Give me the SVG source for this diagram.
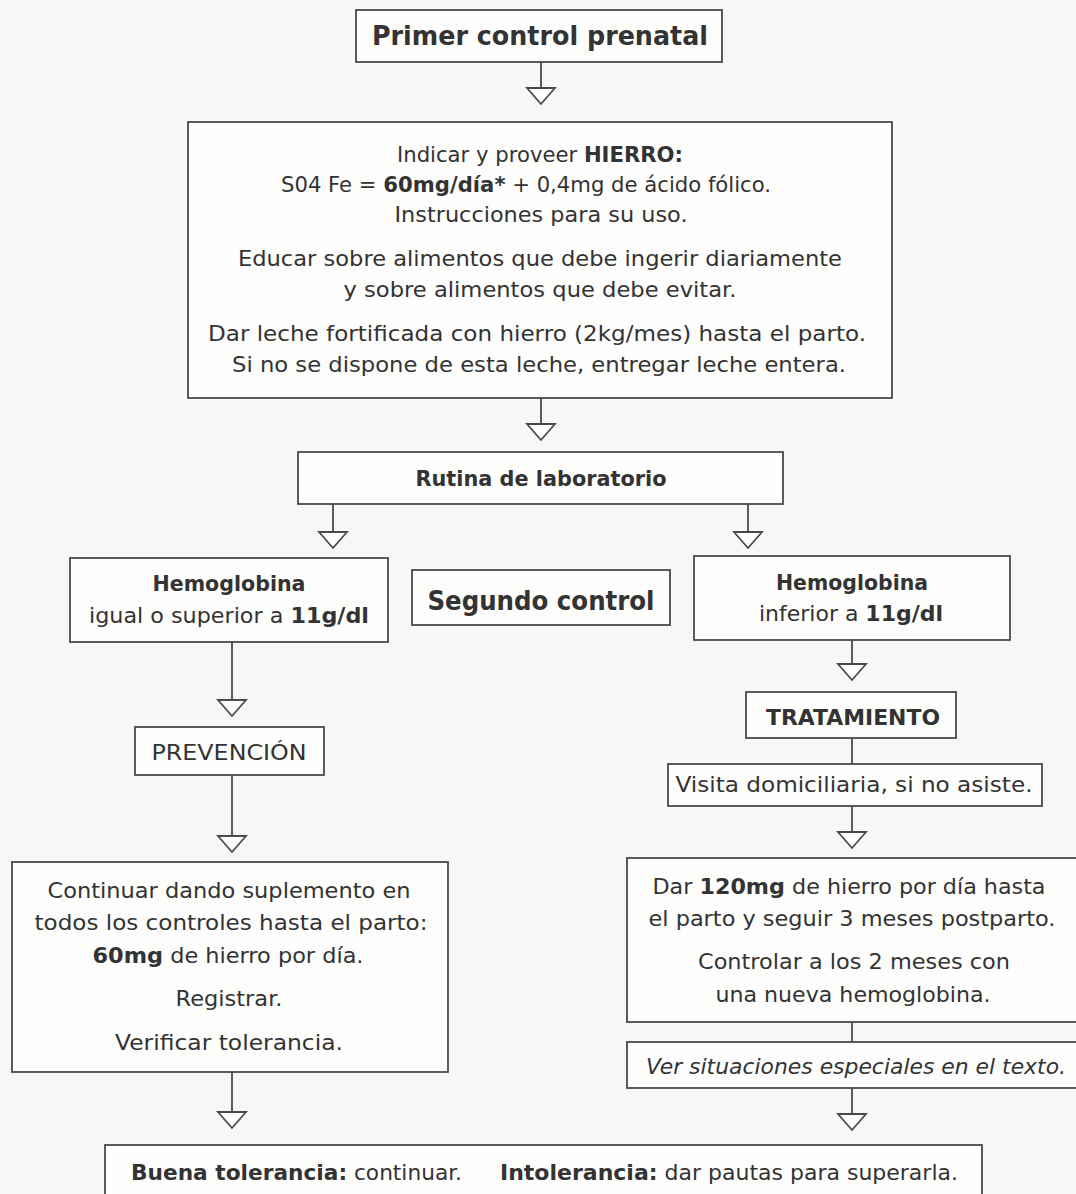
<svg xmlns="http://www.w3.org/2000/svg" width="1076" height="1194" viewBox="0 0 1076 1194">
<style>
.bg{fill:#f7f7f5}
.box{fill:#fdfdfc;stroke:#4a4a4a;stroke-width:1.8}
.ln{stroke:#4a4a4a;stroke-width:1.8;fill:none}
text{font-family:"DejaVu Sans","Liberation Sans",sans-serif;fill:#333;font-size:20.5px}
.t{text-anchor:middle}
.s{text-anchor:start}
.b{font-weight:bold}
</style>
<defs>
<marker id="tri" viewBox="0 0 16 28" markerWidth="16" markerHeight="28" markerUnits="userSpaceOnUse" refX="0" refY="14" orient="auto" overflow="visible">
<path d="M0,0 L16,14 L0,28 Z" fill="#fdfdfc" stroke="#4a4a4a" stroke-width="1.8"/>
</marker>
</defs>
<rect class="bg" x="0" y="0" width="1076" height="1194"/>

<g id="connectors">
<line class="ln" x1="541" y1="62" x2="541" y2="88" marker-end="url(#tri)"/>
<line class="ln" x1="541" y1="398" x2="541" y2="424" marker-end="url(#tri)"/>
<line class="ln" x1="333" y1="504" x2="333" y2="532" marker-end="url(#tri)"/>
<line class="ln" x1="748" y1="504" x2="748" y2="532" marker-end="url(#tri)"/>
<line class="ln" x1="232" y1="642" x2="232" y2="700" marker-end="url(#tri)"/>
<line class="ln" x1="232" y1="775" x2="232" y2="836" marker-end="url(#tri)"/>
<line class="ln" x1="232" y1="1072" x2="232" y2="1112" marker-end="url(#tri)"/>
<line class="ln" x1="852" y1="640" x2="852" y2="664" marker-end="url(#tri)"/>
<line class="ln" x1="852" y1="738" x2="852" y2="764"/>
<line class="ln" x1="852" y1="806" x2="852" y2="832" marker-end="url(#tri)"/>
<line class="ln" x1="852" y1="1022" x2="852" y2="1042"/>
<line class="ln" x1="852" y1="1088" x2="852" y2="1114" marker-end="url(#tri)"/>
</g>

<g id="primer-control">
<rect class="box" x="356" y="10" width="366" height="52"/>
<text class="t b" x="540" y="45" style="font-size:27px" textLength="336" lengthAdjust="spacingAndGlyphs">Primer control prenatal</text>
</g>

<g id="indicar-hierro">
<rect class="box" x="188" y="122" width="704" height="276"/>
<text class="t" x="540" y="162" textLength="286" lengthAdjust="spacingAndGlyphs">Indicar y proveer <tspan class="b">HIERRO:</tspan></text>
<text class="t" x="526" y="192" textLength="490" lengthAdjust="spacingAndGlyphs">S04 Fe = <tspan class="b">60mg/día*</tspan> + 0,4mg de ácido fólico.</text>
<text class="t" x="541" y="222" textLength="293" lengthAdjust="spacingAndGlyphs">Instrucciones para su uso.</text>
<text class="t" x="540" y="266" textLength="604" lengthAdjust="spacingAndGlyphs">Educar sobre alimentos que debe ingerir diariamente</text>
<text class="t" x="540" y="297" textLength="393" lengthAdjust="spacingAndGlyphs">y sobre alimentos que debe evitar.</text>
<text class="t" x="537" y="341" textLength="658" lengthAdjust="spacingAndGlyphs">Dar leche fortificada con hierro (2kg/mes) hasta el parto.</text>
<text class="t" x="539" y="372" textLength="614" lengthAdjust="spacingAndGlyphs">Si no se dispone de esta leche, entregar leche entera.</text>
</g>

<g id="rutina-laboratorio">
<rect class="box" x="298" y="452" width="485" height="52"/>
<text class="t b" x="541" y="486" style="font-size:21.5px" textLength="251" lengthAdjust="spacingAndGlyphs">Rutina de laboratorio</text>
</g>

<g id="hemoglobina-alta">
<rect class="box" x="70" y="558" width="318" height="84"/>
<text class="t b" x="229" y="591" textLength="153" lengthAdjust="spacingAndGlyphs">Hemoglobina</text>
<text class="t" x="229" y="623" textLength="280" lengthAdjust="spacingAndGlyphs">igual o superior a <tspan class="b">11g/dl</tspan></text>
</g>

<g id="segundo-control">
<rect class="box" x="412" y="570" width="258" height="55"/>
<text class="t b" x="541" y="610" style="font-size:26px" textLength="227" lengthAdjust="spacingAndGlyphs">Segundo control</text>
</g>

<g id="hemoglobina-baja">
<rect class="box" x="694" y="556" width="316" height="84"/>
<text class="t b" x="852" y="590" textLength="152" lengthAdjust="spacingAndGlyphs">Hemoglobina</text>
<text class="t" x="851" y="621" textLength="184" lengthAdjust="spacingAndGlyphs">inferior a <tspan class="b">11g/dl</tspan></text>
</g>

<g id="prevencion">
<rect class="box" x="135" y="727" width="189" height="48"/>
<text class="t" x="229" y="760" style="font-size:22px" textLength="155" lengthAdjust="spacingAndGlyphs">PREVENCIÓN</text>
</g>

<g id="tratamiento">
<rect class="box" x="746" y="692" width="210" height="46"/>
<text class="t b" x="853" y="725" style="font-size:22px" textLength="174" lengthAdjust="spacingAndGlyphs">TRATAMIENTO</text>
</g>

<g id="visita">
<rect class="box" x="668" y="764" width="374" height="42"/>
<text class="t" x="854" y="792" textLength="357" lengthAdjust="spacingAndGlyphs">Visita domiciliaria, si no asiste.</text>
</g>

<g id="continuar">
<rect class="box" x="12" y="862" width="436" height="210"/>
<text class="t" x="229" y="898" textLength="363" lengthAdjust="spacingAndGlyphs">Continuar dando suplemento en</text>
<text class="t" x="231" y="930" textLength="393" lengthAdjust="spacingAndGlyphs">todos los controles hasta el parto:</text>
<text class="t" x="228" y="963" textLength="271" lengthAdjust="spacingAndGlyphs"><tspan class="b">60mg</tspan> de hierro por día.</text>
<text class="t" x="229" y="1006" textLength="107" lengthAdjust="spacingAndGlyphs">Registrar.</text>
<text class="t" x="229" y="1050" textLength="228" lengthAdjust="spacingAndGlyphs">Verificar tolerancia.</text>
</g>

<g id="dar-120">
<rect class="box" x="627" y="858" width="460" height="164"/>
<text class="t" x="849" y="894" textLength="393" lengthAdjust="spacingAndGlyphs">Dar <tspan class="b">120mg</tspan> de hierro por día hasta</text>
<text class="t" x="852" y="926" textLength="407" lengthAdjust="spacingAndGlyphs">el parto y seguir 3 meses postparto.</text>
<text class="t" x="854" y="969" textLength="312" lengthAdjust="spacingAndGlyphs">Controlar a los 2 meses con</text>
<text class="t" x="853" y="1002" textLength="275" lengthAdjust="spacingAndGlyphs">una nueva hemoglobina.</text>
</g>

<g id="ver-situaciones">
<rect class="box" x="627" y="1042" width="460" height="46"/>
<text class="t" x="856" y="1074" style="font-style:italic" textLength="420" lengthAdjust="spacingAndGlyphs">Ver situaciones especiales en el texto.</text>
</g>

<g id="tolerancia">
<rect class="box" x="105" y="1145" width="877" height="56"/>
<text class="s" x="131" y="1180" textLength="331" lengthAdjust="spacingAndGlyphs"><tspan class="b">Buena tolerancia:</tspan> continuar.</text>
<text class="s" x="500" y="1180" textLength="458" lengthAdjust="spacingAndGlyphs"><tspan class="b">Intolerancia:</tspan> dar pautas para superarla.</text>
</g>
</svg>
